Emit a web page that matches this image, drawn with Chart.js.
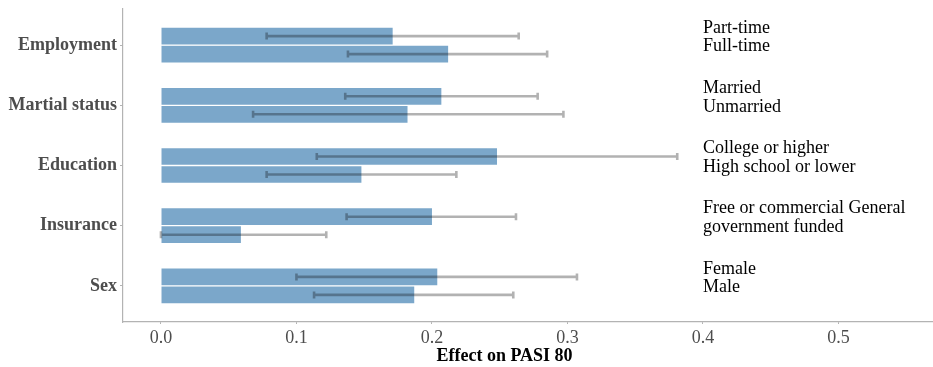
<!DOCTYPE html>
<html>
<head>
<meta charset="utf-8">
<script src="https://cdn.jsdelivr.net/npm/chart.js@4/dist/chart.umd.min.js"></script>
<style>
  html, body { margin: 0; padding: 0; background: #ffffff; }
  #wrap { width: 933px; height: 367px; }
</style>
</head>
<body>
<div id="wrap"><canvas id="c" width="933" height="367"></canvas></div>
<script>
// ---- data ----
const categories = ["Employment", "Martial status", "Education", "Insurance", "Sex"];
const topLabels = ["Part-time", "Married", "College or higher", "Free or commercial General", "Female"];
const bottomLabels = ["Full-time", "Unmarried", "High school or lower", "government funded", "Male"];
const topEffect = [0.171, 0.207, 0.248, 0.200, 0.204];
const topLow = [0.078, 0.136, 0.115, 0.137, 0.100];
const topHigh = [0.264, 0.278, 0.381, 0.262, 0.307];
const bottomEffect = [0.212, 0.182, 0.148, 0.059, 0.187];
const bottomLow = [0.138, 0.068, 0.078, 0.000, 0.113];
const bottomHigh = [0.285, 0.297, 0.218, 0.122, 0.260];
const xTicks = [0.0, 0.1, 0.2, 0.3, 0.4, 0.5];

const SERIF = "'Liberation Serif', 'Times New Roman', serif";
const BAR_COLOR = "rgb(123,167,202)";
const AXIS_COLOR = "#b3b3b3";

function pts(vals) { return vals.map((v, i) => ({ x: v, y: i })); }

const errorBars = {
  id: "errorBars",
  afterDatasetsDraw(chart) {
    const ctx = chart.ctx;
    const xs = chart.scales.x;
    const sets = [[topLow, topHigh], [bottomLow, bottomHigh]];
    ctx.save();
    ctx.strokeStyle = "rgba(0,0,0,0.3)";
    ctx.lineWidth = 2.6;
    sets.forEach((s, di) => {
      const meta = chart.getDatasetMeta(di);
      meta.data.forEach((bar, i) => {
        const y = bar.y;
        const x1 = xs.getPixelForValue(s[0][i]);
        const x2 = xs.getPixelForValue(s[1][i]);
        ctx.beginPath();
        ctx.moveTo(x1, y); ctx.lineTo(x2, y);
        ctx.moveTo(x1, y - 3.5); ctx.lineTo(x1, y + 3.5);
        ctx.moveTo(x2, y - 3.5); ctx.lineTo(x2, y + 3.5);
        ctx.stroke();
      });
    });
    ctx.restore();
  }
};

const sideLabels = {
  id: "sideLabels",
  afterDraw(chart) {
    const ctx = chart.ctx;
    const xs = chart.scales.x, ys = chart.scales.y;
    ctx.save();
    ctx.fillStyle = "#000000";
    ctx.font = "18px " + SERIF;
    ctx.textAlign = "left";
    ctx.textBaseline = "middle";
    const lx = xs.getPixelForValue(0.4);
    categories.forEach((c, i) => {
      const cy = ys.getPixelForValue(i);
      ctx.fillText(topLabels[i], lx, cy - 17);
      ctx.fillText(bottomLabels[i], lx, cy + 1.5);
    });
    // x-axis title
    ctx.font = "bold 18px " + SERIF;
    ctx.textAlign = "center";
    ctx.fillText("Effect on PASI 80", 504.5, 356);
    ctx.restore();
  }
};

new Chart(document.getElementById("c"), {
  type: "bar",
  data: {
    datasets: [
      { label: "top", data: pts(topEffect), backgroundColor: BAR_COLOR,
        borderColor: "#ffffff", borderWidth: { top: 1, bottom: 1, left: 0, right: 0 },
        borderSkipped: false, barThickness: 18 },
      { label: "bottom", data: pts(bottomEffect), backgroundColor: BAR_COLOR,
        borderColor: "#ffffff", borderWidth: { top: 1, bottom: 1, left: 0, right: 0 },
        borderSkipped: false, barThickness: 18 }
    ]
  },
  options: {
    indexAxis: "y",
    responsive: false,
    animation: false,
    layout: { padding: { top: 9, right: 1, left: 0, bottom: 0 } },
    plugins: { legend: { display: false }, tooltip: { enabled: false } },
    scales: {
      x: {
        type: "linear",
        bounds: "data",
        offset: false,
        min: -0.028, max: 0.569,
        afterBuildTicks(scale) { scale.ticks = xTicks.map(v => ({ value: v })); },
        afterFit(scale) { scale.height = 45; scale.paddingLeft = 0; scale.paddingRight = 0; },
        grid: { offset: false, drawOnChartArea: false, drawTicks: true, tickLength: 2, color: AXIS_COLOR },
        border: { display: true, color: AXIS_COLOR, width: 1.2 },
        ticks: {
          color: "#4d4d4d", padding: 3,
          font: { family: SERIF, size: 18 },
          callback: v => Number(v).toFixed(1)
        }
      },
      y: {
        type: "linear",
        bounds: "data",
        offset: false,
        min: -0.6, max: 4.6, reverse: true,
        afterBuildTicks(scale) { scale.ticks = categories.map((c, i) => ({ value: i })); },
        afterFit(scale) { scale.width = 123; scale.paddingTop = 0; scale.paddingBottom = 0; },
        grid: { offset: false, drawOnChartArea: false, drawTicks: true, tickLength: 3, color: AXIS_COLOR },
        border: { display: true, color: AXIS_COLOR, width: 1.2 },
        ticks: {
          color: "#4d4d4d", padding: 3,
          font: { family: SERIF, size: 18, weight: "bold" },
          callback: v => categories[v] ?? ""
        }
      }
    }
  },
  plugins: [errorBars, sideLabels]
});
</script>
</body>
</html>
